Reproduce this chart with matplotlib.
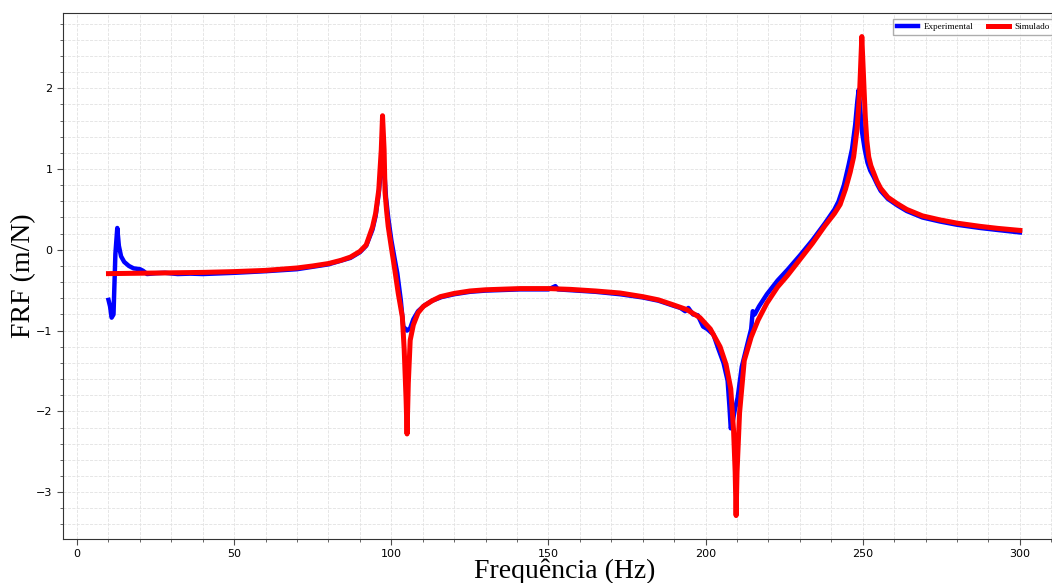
import matplotlib.pyplot as plt
from matplotlib.ticker import MultipleLocator

# Simulated FRF
freq_sim = [10, 20, 30, 40, 50, 60, 70, 75, 80, 84, 87, 90, 92, 94, 95, 96, 96.8, 97.2, 97.7,
            98.0, 98.5, 99.0, 100.0, 101.0, 102.2, 103.5, 104.1, 104.7, 105.0, 105.4, 106.0,
            107.0, 108.5, 110.2, 113, 115.6, 120, 125, 130, 141, 150, 157, 165, 172.8, 180,
            185, 189.6, 194, 198.2, 201.5, 204.6, 206.5, 208.0, 208.9, 209.4, 209.7, 210.0,
            210.8, 212.3, 214.5, 216.7, 219.5, 222.9, 226, 230, 234, 238, 241, 242.8, 244.5,
            246, 247.1, 248.2, 249.0, 249.7, 250.4, 250.8, 251.3, 251.9, 252.6, 253.5, 254.5,
            255.7, 258, 261, 264, 269, 274.6, 280, 287.4, 293, 300]
frf_sim = [-0.295, -0.29, -0.285, -0.28, -0.27, -0.255, -0.225, -0.20, -0.17, -0.13, -0.09,
           -0.02, 0.06, 0.28, 0.45, 0.74, 1.24, 1.66, 1.24,
           0.71, 0.48, 0.29, 0.03, -0.22, -0.54, -0.83, -1.24, -1.86, -2.28, -1.65, -1.12,
           -0.93, -0.78, -0.70, -0.63, -0.58, -0.54, -0.51, -0.495, -0.48, -0.48, -0.49,
           -0.51, -0.535, -0.58,
           -0.62, -0.68, -0.74, -0.84, -0.98, -1.20, -1.42, -1.72, -2.24, -2.75, -3.29, -2.75,
           -2.02, -1.37, -1.08, -0.87, -0.66, -0.46, -0.32, -0.12, 0.08, 0.30, 0.45, 0.56, 0.75,
           0.96, 1.15, 1.50, 1.95, 2.64, 2.00, 1.65, 1.35, 1.15, 1.04, 0.95, 0.85,
           0.76, 0.65, 0.57, 0.50, 0.42, 0.37, 0.33, 0.29, 0.265, 0.24]

# Experimental FRF
freq_exp = [10, 10.5, 11.0, 11.6, 12.2, 12.8, 13.3, 14.0, 15.0, 16.5, 18, 20, 21, 22.3, 25, 28,
            32, 36, 40, 50, 60, 70, 80, 87, 90, 92, 94, 95, 96, 96.8, 97.3, 97.8, 98.3, 99,
            100, 101, 101.9, 103, 103.8, 105, 106, 107, 108.5, 110.5, 113, 116, 120, 125, 130,
            141, 150, 152.2, 153, 157, 165, 172.8, 180, 185, 189.6, 192, 193.5, 194.5, 196,
            197.5, 199.2, 200.5, 202.5, 204, 205.7, 207, 207.6, 208, 208.5, 209.3, 210.2,
            211.5, 213.4, 214.5, 215, 215.6, 217, 219.5, 222.9, 226, 230, 234, 238, 241,
            242.3, 244, 245.5, 246.6, 247.6, 248.3, 248.7, 249.2, 249.8, 250.6, 251.5, 252.4,
            253.5, 254.6, 255.7, 258, 261, 264, 269, 274.6, 280, 287.4, 293, 300]
frf_exp = [-0.62, -0.70, -0.84, -0.80, -0.05, 0.27, 0.05, -0.08, -0.15, -0.20, -0.23, -0.24,
           -0.26, -0.30, -0.29, -0.285,
           -0.30, -0.295, -0.30, -0.285, -0.265, -0.24, -0.18, -0.10, -0.03, 0.05, 0.25, 0.42,
           0.70, 1.05, 1.10, 0.95, 0.65, 0.40,
           0.12, -0.10, -0.29, -0.62, -0.95, -1.0, -0.97, -0.86, -0.76, -0.69, -0.63, -0.585,
           -0.55, -0.52, -0.505,
           -0.49, -0.49, -0.45, -0.49, -0.50, -0.52, -0.55, -0.59, -0.63, -0.69, -0.72, -0.76,
           -0.72, -0.80,
           -0.81, -0.95, -0.98, -1.05, -1.22, -1.40, -1.62, -1.95, -2.21, -2.15, -1.98, -1.83,
           -1.45, -1.15, -0.98, -0.76, -0.80, -0.70, -0.55, -0.38, -0.25, -0.07, 0.12, 0.33,
           0.50,
           0.60, 0.80, 1.05, 1.25, 1.55, 1.85, 1.98, 1.75, 1.45, 1.25, 1.08, 0.98,
           0.90, 0.81, 0.73, 0.63, 0.55, 0.48, 0.40, 0.35, 0.31, 0.27, 0.245, 0.215]

fig = plt.figure(figsize=(10.52, 5.83), dpi=100)
ax = fig.add_axes([0.0598, 0.0755, 0.953, 0.902])

ax.plot(freq_exp, frf_exp, color='blue', lw=3.2, label='Experimental')
ax.plot(freq_sim, frf_sim, color='red', lw=3.6, label='Simulado')

ax.set_xlim(-4.5, 314.5)
ax.set_ylim(-3.58, 2.93)
ax.xaxis.set_major_locator(MultipleLocator(50))
ax.xaxis.set_minor_locator(MultipleLocator(10))
ax.yaxis.set_major_locator(MultipleLocator(1))
ax.yaxis.set_minor_locator(MultipleLocator(0.2))
ax.grid(which='both', color='#e2e2e2', linestyle='--', linewidth=0.6)
ax.set_axisbelow(True)
ax.tick_params(which='major', labelsize=8, length=4, color='0.3')
ax.tick_params(which='minor', length=2, color='0.3')
for s in ax.spines.values():
    s.set_color('0.2')

ax.set_xlabel('Frequência (Hz)', family='Liberation Serif', fontsize=20, labelpad=-1)
ax.set_ylabel('FRF (m/N)', family='Liberation Serif', fontsize=20, labelpad=0)

# legend runs past the right edge, as in the original
ax.legend(loc='upper left', bbox_to_anchor=(0.828, 0.989), ncol=2, fancybox=False,
          edgecolor='0.6', prop={'family': 'Liberation Serif', 'size': 6.6},
          handlelength=2.3, handletextpad=0.6, borderaxespad=0, columnspacing=1.6)

fig.savefig('out.png', dpi=100)
